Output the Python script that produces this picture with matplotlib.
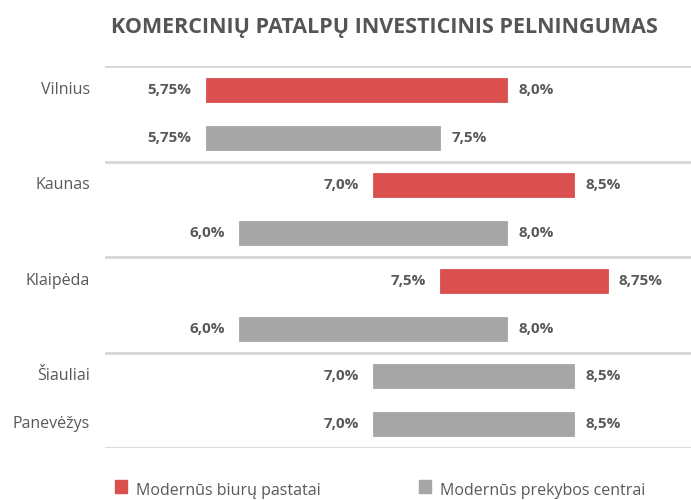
import matplotlib.pyplot as plt
from matplotlib.patches import Rectangle
import matplotlib.transforms as mtransforms

# data
cities = ["Vilnius", "Kaunas", "Klaipėda", "Šiauliai", "Panevėžys"]
series = ["Modernūs biurų pastatai", "Modernūs prekybos centrai"]
# one row per bar: (city, series index, low, high)
row_city = ["Vilnius", "Vilnius", "Kaunas", "Kaunas", "Klaipėda", "Klaipėda", "Šiauliai", "Panevėžys"]
row_series = [0, 1, 0, 1, 0, 1, 1, 1]
low = [5.75, 5.75, 7.0, 6.0, 7.5, 6.0, 7.0, 7.0]
high = [8.0, 7.5, 8.5, 8.0, 8.75, 8.0, 8.5, 8.5]
low_labels = ["5,75%", "5,75%", "7,0%", "6,0%", "7,5%", "6,0%", "7,0%", "7,0%"]
high_labels = ["8,0%", "7,5%", "8,5%", "8,0%", "8,75%", "8,0%", "8,5%", "8,5%"]

colors = ["#d9504e", "#a6a6a6"]
text_col = "#595959"
title_col = "#555555"

plt.rcParams['font.family'] = ['Open Sans', 'DejaVu Sans']

fig = plt.figure(figsize=(6.91, 5.0), dpi=100)
ax = fig.add_axes([105 / 691, 52 / 500, 586 / 691, 382 / 500])

ypos = list(range(len(low)))
for i in ypos:
    c = colors[row_series[i]]
    ax.barh(i, high[i] - low[i], left=low[i], height=0.5, color=c,
            edgecolor=c, linewidth=0.6)
    ax.annotate(low_labels[i], (low[i], i), xytext=(-10, 0), textcoords="offset points",
                ha="right", va="center", fontsize=11, fontweight="bold", color=text_col)
    ax.annotate(high_labels[i], (high[i], i), xytext=(8, 0), textcoords="offset points",
                ha="left", va="center", fontsize=11, fontweight="bold", color=text_col)

# separators between cities
for y in [-0.5, 1.5, 3.5, 5.5, 7.5]:
    ax.axhline(y, color="#d6d6d6", lw=2, zorder=0)

ax.set_xlim(5.0, 9.37)
ax.set_ylim(7.5, -0.5)
ax.axis("off")

# city names on the first row of each city
trans = mtransforms.blended_transform_factory(fig.transFigure, ax.transData)
for city in cities:
    r = row_city.index(city)
    fig.text(90 / 691, r, city, transform=trans, ha="right", va="center",
             fontsize=11.5, color=text_col)

fig.text(384 / 691, 1 - 28 / 500, "KOMERCINIŲ PATALPŲ INVESTICINIS PELNINGUMAS",
         ha="center", va="center", fontsize=15.5, fontweight="bold", color=title_col)

# legend
leg_x = [115, 419]
for k, name in enumerate(series):
    fig.patches.append(Rectangle((leg_x[k] / 691, 7 / 500), 12 / 691, 13 / 500,
                                 transform=fig.transFigure, color=colors[k]))
    fig.text((leg_x[k] + 21) / 691, 9 / 500, name, ha="left", va="center",
             fontsize=11.5, color=text_col)

fig.savefig("out.png", dpi=100)
